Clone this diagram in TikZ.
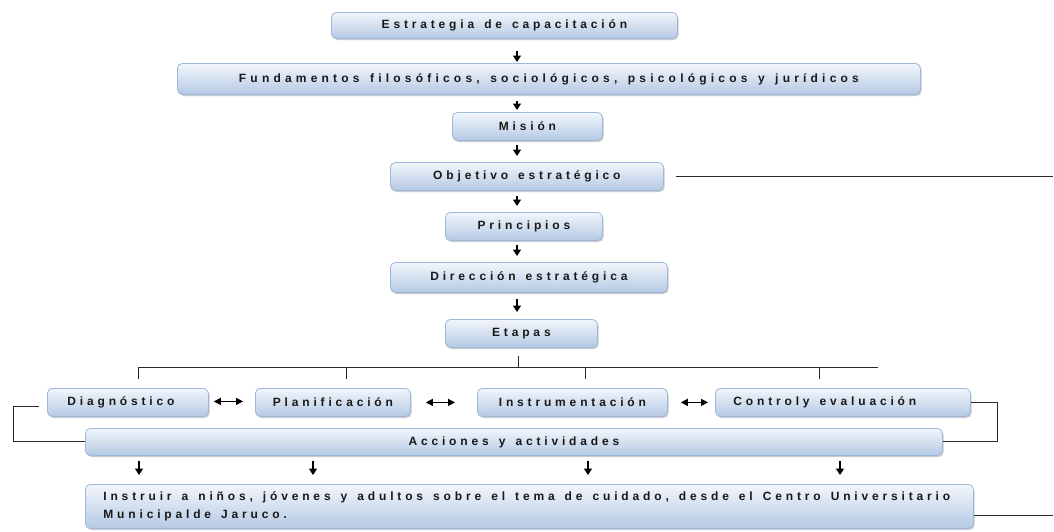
\documentclass[tikz,border=0pt]{standalone}
\usepackage{fontspec}
\setmainfont{Liberation Sans}[LetterSpace=32, WordSpace=1.4]
\usetikzlibrary{arrows.meta,shadows}
\definecolor{boxtop}{HTML}{F2F6FB}
\definecolor{boxbot}{HTML}{B5C9E4}
\definecolor{boxline}{HTML}{9DB8DC}
\definecolor{lncol}{HTML}{2B2B2B}
\tikzset{
  box/.style={draw=boxline, line width=0.8pt, rounded corners=5pt,
    top color=boxtop, bottom color=boxbot, anchor=north west,
    drop shadow={shadow xshift=1.2pt, shadow yshift=-1.6pt, fill=black!45, opacity=0.45},
    font=\fontsize{12}{13}\selectfont\bfseries, text=black!90, inner sep=0pt},
  ln/.style={draw=lncol, line width=0.9pt},
  arr/.style={draw=black, line width=1.4pt, -{Triangle[width=8pt,length=6.5pt]}},
  dbl/.style={draw=black, line width=1.4pt, {Triangle[width=7pt,length=7pt]}-{Triangle[width=7pt,length=7pt]}}
}
\begin{document}
\begin{tikzpicture}[x=1pt,y=-1pt]
\useasboundingbox (0,0) rectangle (1054,531);
\fill[white] (0,0) rectangle (1054,531);
% boxes
\node[box, minimum width=346, minimum height=26] (estr) at (331,12) {Estrategia de capacitación};
\node[box, minimum width=743, minimum height=31, font=\fontsize{12}{13}\selectfont\bfseries\addfontfeature{LetterSpace=35}] (fund) at (177,63) {Fundamentos filosóficos, sociológicos, psicológicos y jurídicos};
\node[box, minimum width=150, minimum height=28] (mis) at (452,112) {Misión};
\node[box, minimum width=273, minimum height=28] (obj) at (390,162) {Objetivo estratégico};
\node[box, minimum width=157, minimum height=28] (prin) at (445,212) {Principios};
\node[box, minimum width=277, minimum height=30] (dir) at (390,262) {Dirección estratégica};
\node[box, minimum width=152, minimum height=28] (eta) at (445,319) {Etapas};
\node[box, minimum width=161, minimum height=28] (diag) at (47,388) {\makebox[121pt][l]{Diagnóstico}};
\node[box, minimum width=155, minimum height=28] (plan) at (255,388) {Planificación};
\node[box, minimum width=190, minimum height=28] (inst) at (477,388) {Instrumentación};
\node[box, minimum width=255, minimum height=28] (ctrl) at (715,388) {\makebox[219pt][l]{Controly evaluación}};
\node[box, minimum width=857, minimum height=27] (acc) at (85,428) {Acciones y actividades};
\node[box, minimum width=888, minimum height=44, align=left,
  font=\fontsize{12}{18}\selectfont\bfseries\addfontfeature{LetterSpace=32}] (fin) at (85,484)
  {\makebox[852pt][l]{Instruir a niños, jóvenes y adultos sobre el tema de cuidado, desde el Centro Universitario}\\
   \makebox[852pt][l]{Municipalde Jaruco.}};
% helper coordinates
\coordinate (ax) at (517,0);
\coordinate (busL) at (138,367);
\coordinate (busR) at (878,367);
\coordinate (d2) at (346,367);
\coordinate (d3) at (585,367);
\coordinate (d4) at (819,367);
\coordinate (bx) at (518,367);
\coordinate (lb) at (13,0);
\coordinate (rb) at (997,0);
\coordinate (rx) at (1053,0);
\coordinate (a1) at (139,0);
\coordinate (a2) at (313,0);
\coordinate (a3) at (588,0);
\coordinate (a4) at (840,0);
% vertical arrows
\draw[arr, shorten <=12pt, shorten >=1pt] (estr.south -| ax) -- (fund.north -| ax);
\draw[arr, shorten <=6pt, shorten >=2pt] (fund.south -| ax) -- (mis.north -| ax);
\draw[arr, shorten <=4pt, shorten >=6pt] (mis.south -| ax) -- (obj.north -| ax);
\draw[arr, shorten <=5pt, shorten >=6pt] (obj.south -| ax) -- (prin.north -| ax);
\draw[arr, shorten <=4pt, shorten >=6pt] (prin.south -| ax) -- (dir.north -| ax);
\draw[arr, shorten <=6pt, shorten >=7pt] (dir.south -| ax) -- (eta.north -| ax);
% tree
\draw[ln, shorten <=8pt] (eta.south -| bx) -- (bx);
\draw[ln] (busL) -- (busR);
\draw[ln, shorten >=9pt] (busL) -- (busL |- diag.north);
\draw[ln, shorten >=9pt] (d2) -- (d2 |- plan.north);
\draw[ln, shorten >=9pt] (d3) -- (d3 |- inst.north);
\draw[ln, shorten >=9pt] (d4) -- (d4 |- ctrl.north);
% double arrows
\draw[dbl, shorten <=5pt, shorten >=12pt] ([yshift=1pt]diag.east) -- ([yshift=1pt]plan.west);
\draw[dbl, shorten <=15pt, shorten >=22pt] (plan.east) -- (inst.west);
\draw[dbl, shorten <=13pt, shorten >=7pt] (inst.east) -- (ctrl.west);
% brackets
\draw[ln] ([xshift=-8pt,yshift=-4pt]diag.west) -- ([yshift=-4pt]diag.west -| lb) |- (acc.west);
\draw[ln] (ctrl.east) -- (ctrl.east -| rb) |- (acc.east);
% arrows to final box
\draw[arr, shorten <=5pt, shorten >=9pt] (acc.south -| a1) -- (fin.north -| a1);
\draw[arr, shorten <=5pt, shorten >=9pt] (acc.south -| a2) -- (fin.north -| a2);
\draw[arr, shorten <=5pt, shorten >=9pt] (acc.south -| a3) -- (fin.north -| a3);
\draw[arr, shorten <=5pt, shorten >=9pt] (acc.south -| a4) -- (fin.north -| a4);
% side lines
\draw[ln, shorten <=12pt] (obj.east) -- (obj.east -| rx);
\draw[ln] ([yshift=-9pt]fin.east) -- ([yshift=-9pt]fin.east -| rx);
\end{tikzpicture}
\end{document}
